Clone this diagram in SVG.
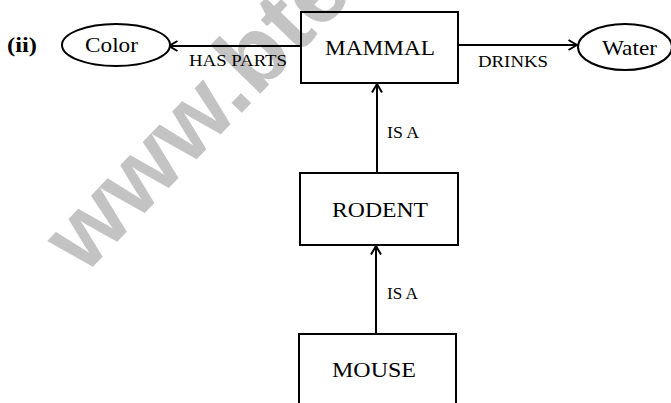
<svg xmlns="http://www.w3.org/2000/svg" width="671" height="403" viewBox="0 0 671 403">
<style>
.box{fill:none;stroke:#000;stroke-width:2}
.ell{fill:#fff;stroke:#000;stroke-width:2}
.lbl{font-family:"Liberation Serif","Times New Roman",serif;fill:#000}
.node{font-size:22px}
.edge{font-size:16px}
.con{stroke:#000;stroke-width:2;fill:none}
.wm{font-family:"Liberation Sans",Arial,sans-serif;font-weight:bold;font-size:96px;fill:#c3c3c3}
</style>
<defs>
<marker id="arr" viewBox="0 0 10 12" refX="9.5" refY="6" markerWidth="10" markerHeight="12" markerUnits="userSpaceOnUse" orient="auto">
<path d="M1,1 L9.5,6 L1,11" fill="none" stroke="#000" stroke-width="2"/>
</marker>
</defs>
<rect width="671" height="403" fill="#fff"/>
<text class="wm" transform="translate(84,276) rotate(-46)">www.bte</text>
<text class="lbl" x="7" y="52" font-size="22" font-weight="bold" textLength="30" lengthAdjust="spacingAndGlyphs">(ii)</text>
<g id="connectors">
<line class="con" x1="302" y1="46" x2="169" y2="46" marker-end="url(#arr)"/>
<line class="con" x1="458" y1="45" x2="577" y2="45" marker-end="url(#arr)"/>
<line class="con" x1="377" y1="173" x2="377" y2="84" marker-end="url(#arr)"/>
<line class="con" x1="376" y1="334" x2="376" y2="246" marker-end="url(#arr)"/>
<text class="lbl edge" x="189" y="66" textLength="98" lengthAdjust="spacingAndGlyphs">HAS PARTS</text>
<text class="lbl edge" x="478" y="67" textLength="70" lengthAdjust="spacingAndGlyphs">DRINKS</text>
<text class="lbl edge" x="387" y="138" textLength="32" lengthAdjust="spacingAndGlyphs">IS A</text>
<text class="lbl edge" x="387" y="299" textLength="31" lengthAdjust="spacingAndGlyphs">IS A</text>
</g>
<g id="color">
<ellipse class="ell" cx="116" cy="45" rx="54" ry="21"/>
<text class="lbl node" x="85" y="52" textLength="53" lengthAdjust="spacingAndGlyphs">Color</text>
</g>
<g id="mammal">
<rect class="box" x="301" y="12" width="157" height="71"/>
<text class="lbl node" x="325" y="55" textLength="110" lengthAdjust="spacingAndGlyphs">MAMMAL</text>
</g>
<g id="water">
<ellipse class="ell" cx="625" cy="47" rx="47" ry="23"/>
<text class="lbl node" x="602" y="55" textLength="55" lengthAdjust="spacingAndGlyphs">Water</text>
</g>
<g id="rodent">
<rect class="box" x="300" y="173" width="158" height="72"/>
<text class="lbl node" x="332" y="217" textLength="96" lengthAdjust="spacingAndGlyphs">RODENT</text>
</g>
<g id="mouse">
<rect class="box" x="299" y="334" width="157" height="80"/>
<text class="lbl node" x="332" y="377" textLength="84" lengthAdjust="spacingAndGlyphs">MOUSE</text>
</g>
</svg>
